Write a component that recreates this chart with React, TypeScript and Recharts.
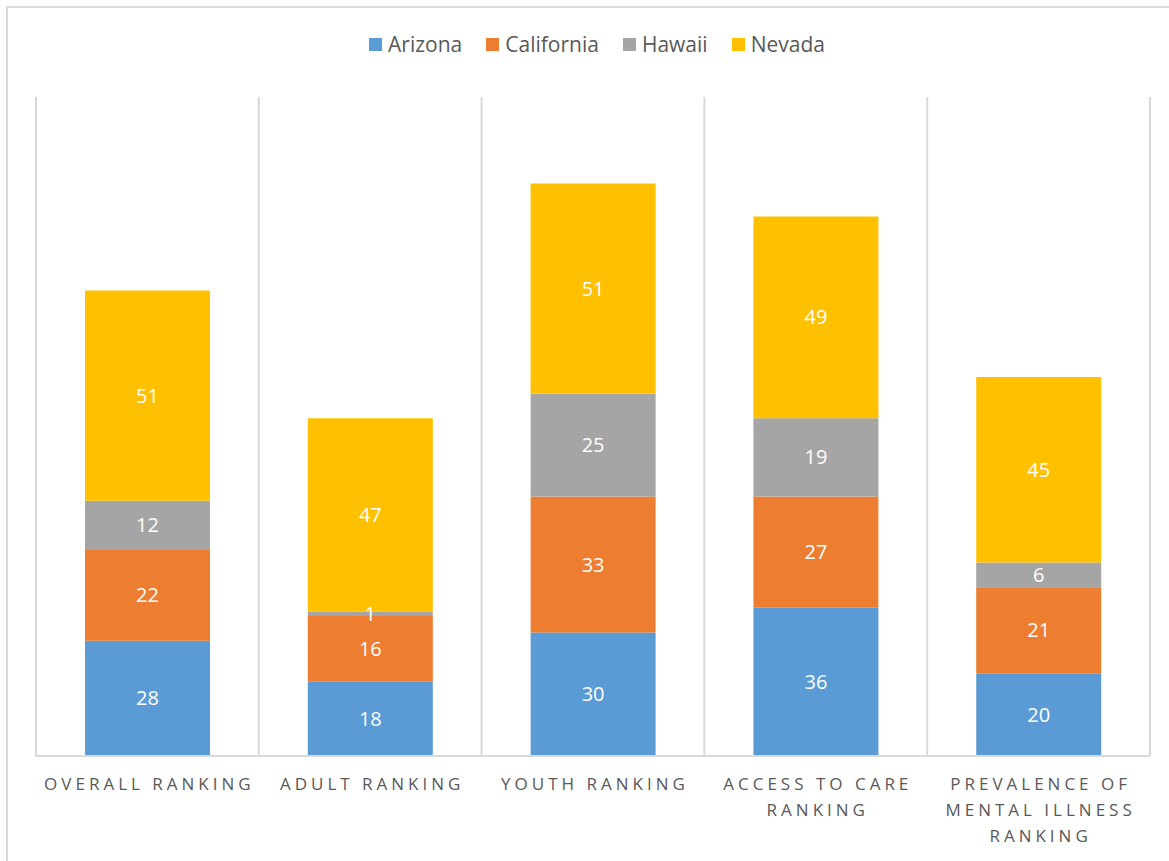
import { BarChart, Bar, XAxis, YAxis, CartesianGrid, LabelList } from 'recharts'

const categories = [
  'Overall Ranking',
  'Adult Ranking',
  'Youth Ranking',
  'Access to Care Ranking',
  'Prevalence of Mental Illness Ranking',
]

// tick labels as Excel wrapped them
const tickLines = [
  ['OVERALL RANKING'],
  ['ADULT RANKING'],
  ['YOUTH RANKING'],
  ['ACCESS TO CARE', 'RANKING'],
  ['PREVALENCE OF', 'MENTAL ILLNESS', 'RANKING'],
]

const arizona = [28, 18, 30, 36, 20]
const california = [22, 16, 33, 27, 21]
const hawaii = [12, 1, 25, 19, 6]
const nevada = [51, 47, 51, 49, 45]

const series = [
  { key: 'Arizona', values: arizona, color: '#5B9BD5' },
  { key: 'California', values: california, color: '#ED7D31' },
  { key: 'Hawaii', values: hawaii, color: '#A5A5A5' },
  { key: 'Nevada', values: nevada, color: '#FFC000' },
]

const data = categories.map((name, i) => {
  const row: Record<string, any> = { name, idx: i }
  series.forEach((s) => (row[s.key] = s.values[i]))
  return row
})

const FONT = '"Open Sans", "Liberation Sans", sans-serif'

const CategoryTick = ({ x, y, index }: any) => {
  const lines = tickLines[index] || []
  return (
    <text
      x={x}
      y={y}
      textAnchor="middle"
      fill="#595959"
      fontSize={17}
      fontFamily={FONT}
      style={{ letterSpacing: '4px' }}
    >
      {lines.map((l, i) => (
        <tspan key={i} x={x + 2} dy={26}>
          {l}
        </tspan>
      ))}
    </text>
  )
}

// gridlines sit on the category boundaries, not the centres
const boundaries = ({ offset }: any) =>
  categories.map((_, i) => offset.left + (i * offset.width) / categories.length).concat(offset.left + offset.width)

export default function App() {
  return (
    <div
      style={{
        position: 'fixed',
        left: 0,
        top: 0,
        width: 1169,
        height: 861,
        overflow: 'hidden',
        background: '#fff',
      }}
    >
      <div
        style={{
          position: 'absolute',
          left: 6,
          top: 6,
          width: 1200,
          height: 900,
          border: '2px solid #d9d9d9',
        }}
      />
      <div
        style={{
          position: 'absolute',
          left: 0,
          top: 31,
          width: 1169,
          paddingLeft: 49,
          boxSizing: 'border-box',
          display: 'flex',
          justifyContent: 'center',
          fontFamily: FONT,
          fontSize: 21,
          color: '#595959',
          lineHeight: '26px',
        }}
      >
        {series.map((s) => (
          <div key={s.key} style={{ display: 'flex', alignItems: 'center', marginRight: 24 }}>
            <span style={{ width: 13, height: 13, background: s.color, marginRight: 6 }} />
            <span>{s.key}</span>
          </div>
        ))}
      </div>
      <div style={{ position: 'absolute', left: 0, top: 0 }}>
        <BarChart
          width={1169}
          height={861}
          data={data}
          margin={{ top: 97, right: 19, left: 36, bottom: 5 }}
          barCategoryGap="22%"
        >
          <CartesianGrid
            horizontal={false}
            stroke="#d9d9d9"
            strokeWidth={2}
            verticalCoordinatesGenerator={boundaries}
          />
          <XAxis
            dataKey="name"
            height={100}
            tickLine={false}
            axisLine={{ stroke: '#d9d9d9', strokeWidth: 2 }}
            tick={<CategoryTick />}
            interval={0}
          />
          <YAxis hide domain={[0, 160]} />
          {series.map((s) => (
            <Bar key={s.key} dataKey={s.key} stackId="a" fill={s.color} isAnimationActive={false}>
              <LabelList
                dataKey={s.key}
                position="center"
                fill="#ffffff"
                fontSize={20}
                fontFamily={FONT}
              />
            </Bar>
          ))}
        </BarChart>
      </div>
    </div>
  )
}
